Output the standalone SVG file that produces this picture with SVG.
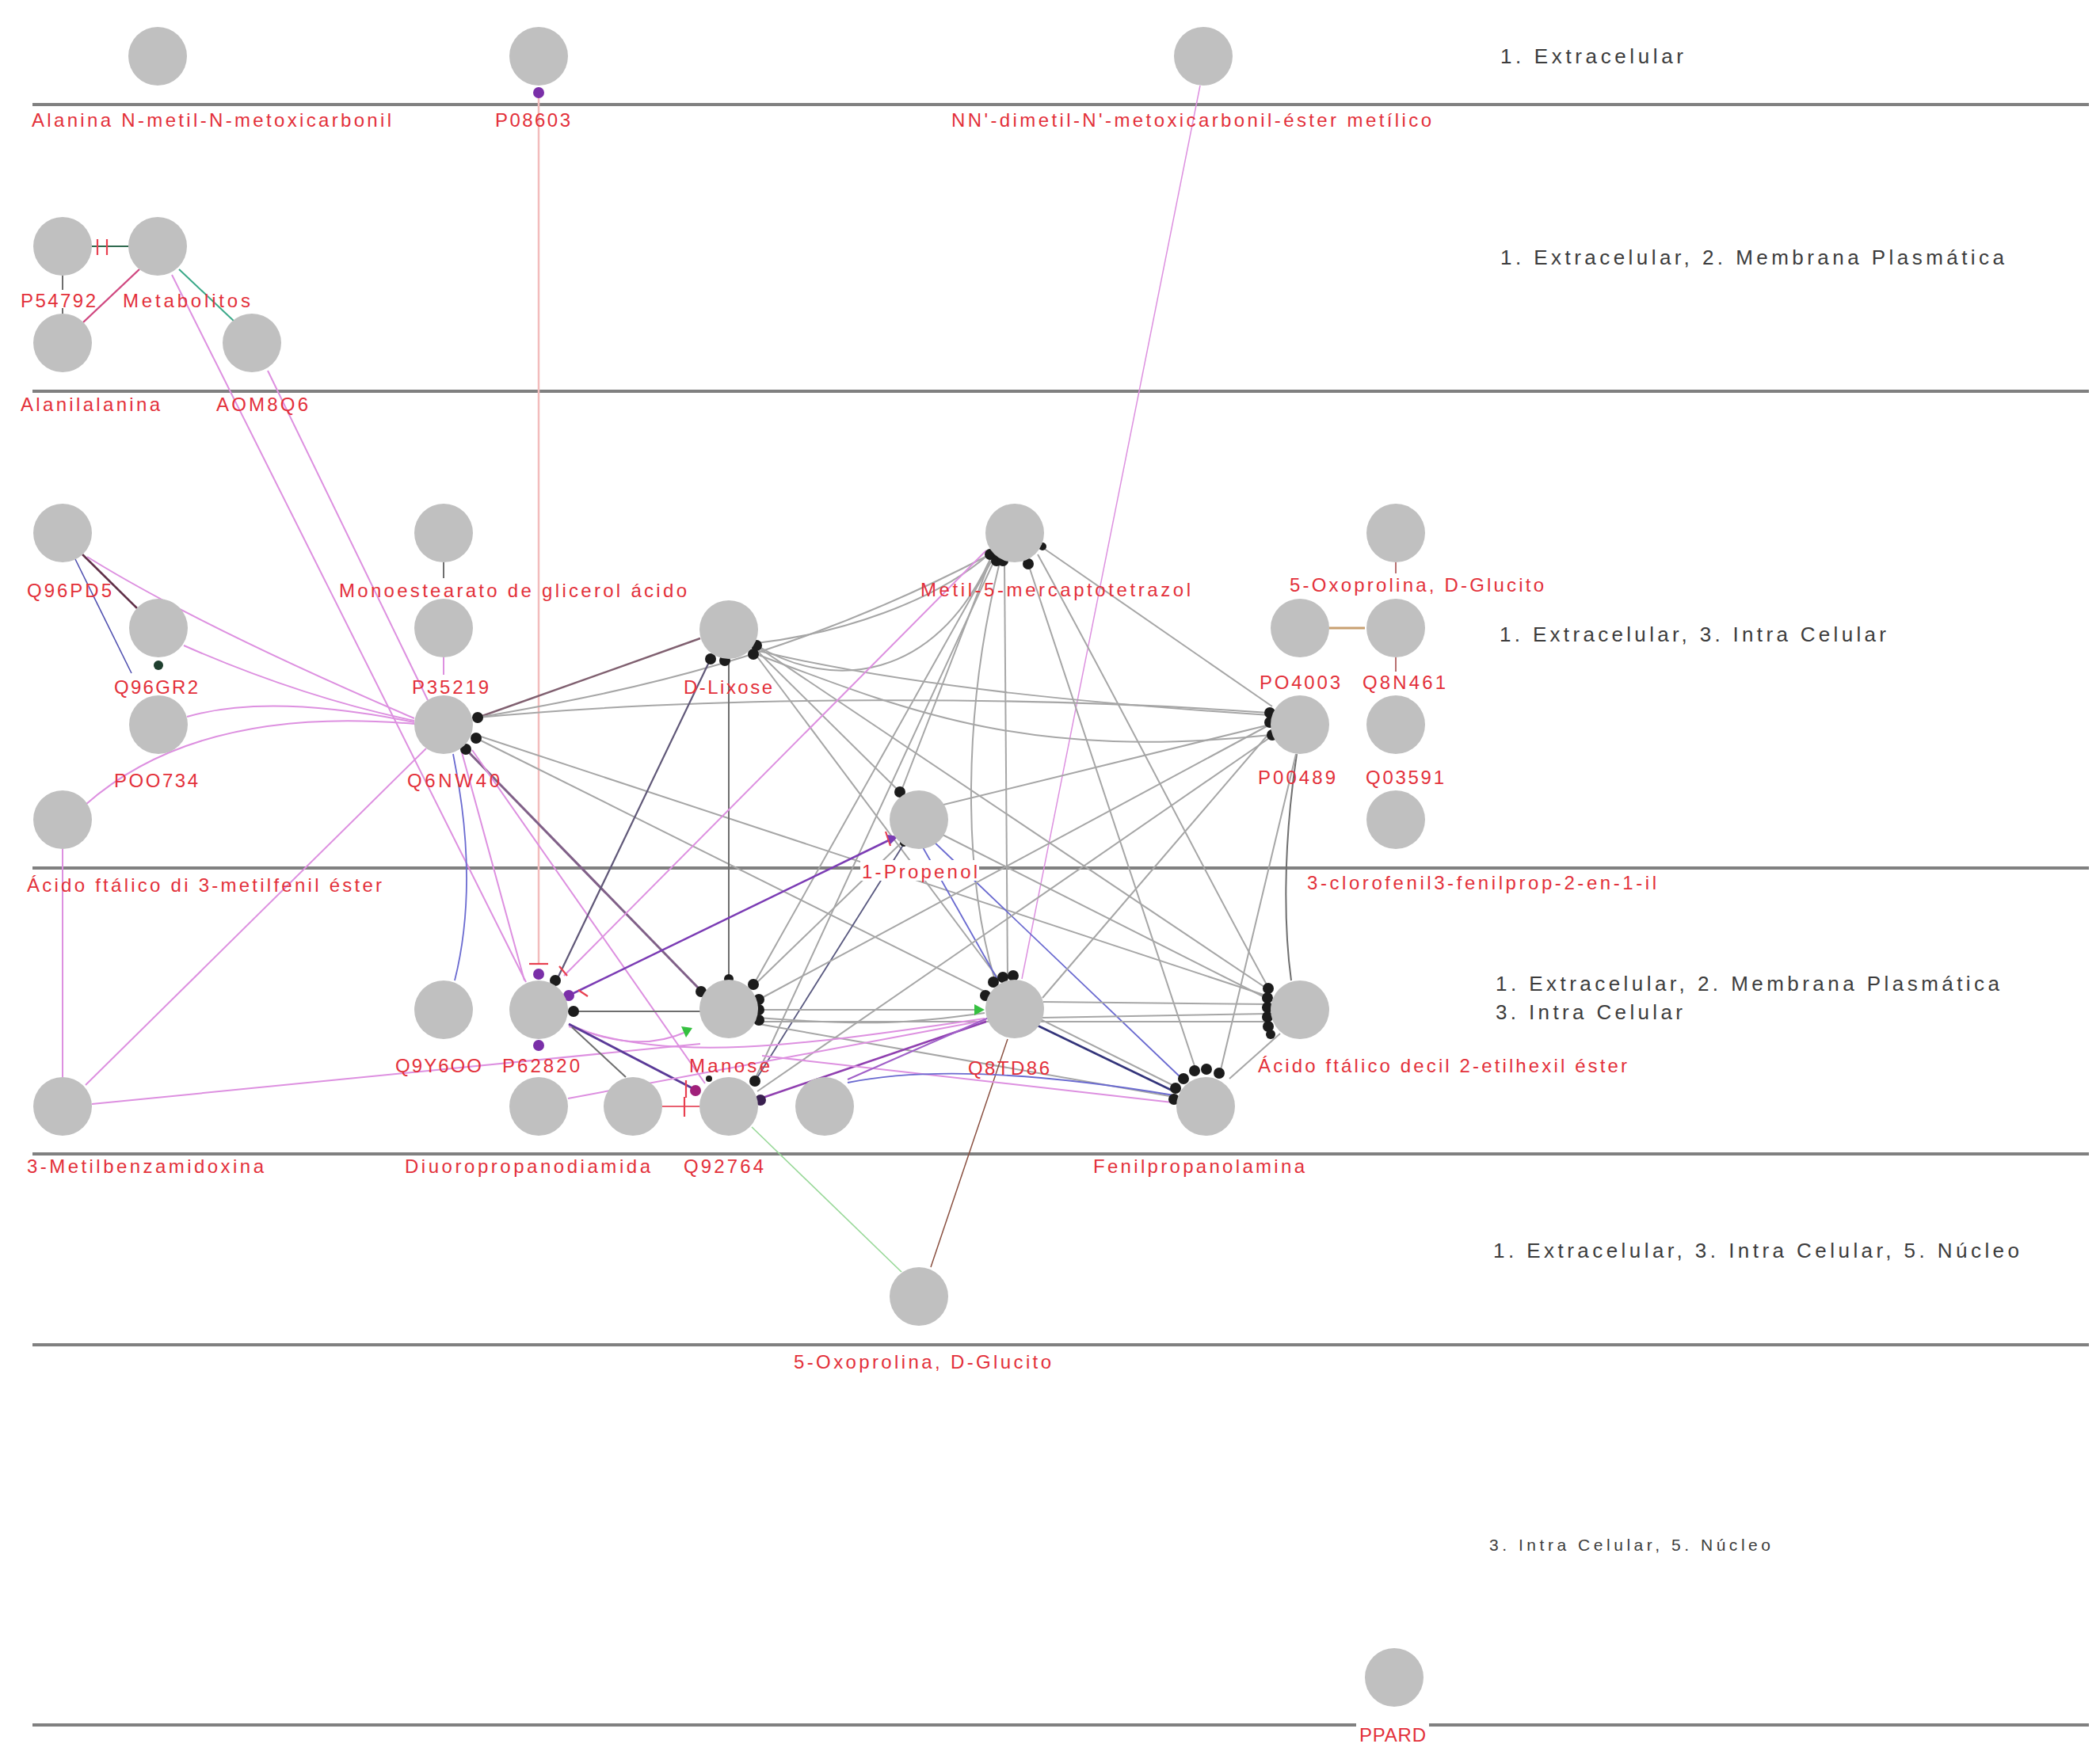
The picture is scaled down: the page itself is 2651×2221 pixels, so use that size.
<svg xmlns="http://www.w3.org/2000/svg" width="2651" height="2221" viewBox="0 0 2651 2221">
<style>
.bg{fill:#ffffff}
.lane{stroke:#808080;stroke-width:4;fill:none}
.nd{fill:#c0c0c0}
.lbl{fill:#e3303a;font-family:"Liberation Sans","DejaVu Sans",sans-serif;font-size:24px}
.lbg{fill:#ffffff}
.ll{fill:#3c3c3c;font-family:"Liberation Sans","DejaVu Sans",sans-serif;font-size:26px}
.ll2{fill:#3c3c3c;font-family:"Liberation Sans","DejaVu Sans",sans-serif;font-size:21px}
.e{fill:none;stroke-width:2}
.gr{stroke:#a6a6a6}
.dg{stroke:#6e6e6e}
.pk{stroke:#dd90e0}
.sal{stroke:#f2bcbc;stroke-width:2.5}
.pu{stroke:#7b3cb4;stroke-width:2.6}
.bl{stroke:#6a6ad0;stroke-width:1.8}
.nv{stroke:#33347a;stroke-width:2.6}
.br{stroke:#8a5040;stroke-width:1.5}
.gn{stroke:#98d898;stroke-width:1.6}
.rd{stroke:#e86070;stroke-width:2.2}
.tee{stroke:#e84050;stroke-width:2.2;fill:none}
.dot{fill:#1c1c1c}
.pdot{fill:#7a2fa8}
</style>
<rect class="bg" x="0" y="0" width="2651" height="2221"/>

<g id="lanes">
<line class="lane" x1="41" y1="132" x2="2637" y2="132"/>
<line class="lane" x1="41" y1="494" x2="2637" y2="494"/>
<line class="lane" x1="41" y1="1096" x2="2637" y2="1096"/>
<line class="lane" x1="41" y1="1457" x2="2637" y2="1457"/>
<line class="lane" x1="41" y1="1698" x2="2637" y2="1698"/>
<line class="lane" x1="41" y1="2178" x2="2637" y2="2178"/>
<text class="ll" x="1894" y="80" textLength="231" lengthAdjust="spacing">1. Extracelular</text>
<text class="ll" x="1894" y="334" textLength="636" lengthAdjust="spacing">1. Extracelular, 2. Membrana Plasmática</text>
<text class="ll" x="1893" y="810" textLength="488" lengthAdjust="spacing">1. Extracelular, 3. Intra Celular</text>
<text class="ll" x="1888" y="1251" textLength="636" lengthAdjust="spacing">1. Extracelular, 2. Membrana Plasmática</text>
<text class="ll" x="1888" y="1287" textLength="236" lengthAdjust="spacing">3. Intra Celular</text>
<text class="ll" x="1885" y="1588" textLength="664" lengthAdjust="spacing">1. Extracelular, 3. Intra Celular, 5. Núcleo</text>
<text class="ll2" x="1880" y="1958" textLength="355" lengthAdjust="spacing">3. Intra Celular, 5. Núcleo</text>
</g>

<g id="connectors">
<!-- top lanes -->
<line class="e sal" x1="680" y1="118" x2="680" y2="1217"/>
<line class="e pk" style="stroke-width:1.5" x1="1515" y1="108" x2="1290" y2="1236"/>
<line class="e" style="stroke:#2f6a4f" x1="116" y1="311" x2="162" y2="311"/>
<line class="e dg" x1="79" y1="348" x2="79" y2="366"/>
<line class="e dg" x1="79" y1="389" x2="79" y2="396"/>
<line class="e" style="stroke:#d04880;stroke-width:2.4" x1="176" y1="340" x2="105" y2="407"/>
<line class="e" style="stroke:#3aa888" x1="226" y1="340" x2="297" y2="407"/>
<line class="e pk" x1="217" y1="347" x2="664" y2="1240"/>
<line class="e pk" x1="338" y1="468" x2="540" y2="884"/>
<!-- left lane 3 -->
<line class="e" style="stroke:#603048;stroke-width:2.6" x1="104" y1="700" x2="173" y2="768"/>
<line class="e" style="stroke:#5050b0;stroke-width:1.6" x1="95" y1="706" x2="166" y2="850"/>
<path class="e pk" d="M110,703 Q250,790 523,907"/>
<path class="e pk" d="M232,815 Q380,880 523,910"/>
<path class="e pk" d="M236,905 Q340,875 523,912"/>
<path class="e pk" d="M108,1016 Q250,890 523,914"/>
<line class="e pk" x1="79" y1="1360" x2="79" y2="1072"/>
<line class="e pk" x1="108" y1="1370" x2="538" y2="945"/>
<line class="e pk" x1="116" y1="1394" x2="884" y2="1318"/>
<line class="e dg" x1="560" y1="710" x2="560" y2="730"/>
<line class="e pk" x1="560" y1="830" x2="560" y2="852"/>
<line class="e" style="stroke:#a04040;stroke-width:1.5" x1="1762" y1="710" x2="1762" y2="724"/>
<line class="e" style="stroke:#a04040;stroke-width:1.5" x1="1762" y1="830" x2="1762" y2="848"/>
<line class="e" style="stroke:#c8a070;stroke-width:3" x1="1677" y1="793" x2="1723" y2="793"/>
<!-- Q6NW40 -->
<line class="e" style="stroke:#806070;stroke-width:2.4" x1="603" y1="906" x2="884" y2="806"/>
<path class="e gr" d="M603,906 C800,872 1000,830 1246,702"/>
<path class="e gr" d="M603,906 C900,878 1300,878 1602,900"/>
<line class="e gr" x1="601" y1="932" x2="1484" y2="1372"/>
<line class="e gr" x1="601" y1="928" x2="1601" y2="1258"/>
<line class="e" style="stroke:#806088;stroke-width:3" x1="588" y1="946" x2="884" y2="1250"/>
<path class="e bl" d="M572,952 C592,1050 596,1150 574,1238"/>
<line class="e pk" x1="583" y1="950" x2="662" y2="1238"/>
<line class="e pk" x1="596" y1="947" x2="890" y2="1368"/>
<!-- D-Lixose -->
<line class="e dg" x1="920" y1="832" x2="920" y2="1236"/>
<line class="e" style="stroke:#605878;stroke-width:2.2" x1="897" y1="832" x2="703" y2="1237"/>
<path class="e gr" d="M957,816 C1050,872 1180,860 1250,706"/>
<path class="e gr" d="M955,812 C1060,800 1180,760 1248,700"/>
<path class="e gr" d="M958,822 C1150,868 1400,890 1603,903"/>
<path class="e gr" d="M955,826 C1150,900 1300,960 1604,928"/>
<line class="e gr" x1="958" y1="824" x2="1136" y2="1000"/>
<line class="e gr" x1="955" y1="828" x2="1262" y2="1238"/>
<line class="e gr" x1="958" y1="818" x2="1602" y2="1250"/>
<!-- Metil-5 -->
<line class="e gr" x1="1250" y1="708" x2="1138" y2="998"/>
<line class="e gr" x1="1252" y1="708" x2="952" y2="1242"/>
<line class="e gr" x1="1255" y1="708" x2="953" y2="1363"/>
<path class="e gr" d="M1262,710 C1215,900 1215,1100 1256,1238"/>
<line class="e gr" x1="1268" y1="710" x2="1272" y2="1234"/>
<line class="e gr" x1="1298" y1="712" x2="1510" y2="1352"/>
<line class="e gr" x1="1317" y1="692" x2="1606" y2="892"/>
<path class="e gr" d="M1310,700 C1420,900 1520,1100 1600,1245"/>
<line class="e pk" x1="1245" y1="695" x2="712" y2="1232"/>
<!-- 1-Propenol -->
<line class="e gr" x1="1183" y1="1018" x2="1603" y2="915"/>
<line class="e gr" x1="1182" y1="1050" x2="1602" y2="1262"/>
<line class="e bl" x1="1178" y1="1062" x2="1490" y2="1360"/>
<line class="e bl" x1="1165" y1="1070" x2="1260" y2="1238"/>
<line class="e pu" x1="720" y1="1256" x2="1124" y2="1060"/>
<line class="e" style="stroke:#5a5a80;stroke-width:1.8" x1="955" y1="1362" x2="1142" y2="1064"/>
<line class="e gr" x1="1140" y1="1062" x2="952" y2="1244"/>
<!-- P00489 -->
<path class="e dg" d="M1637,952 C1618,1080 1622,1180 1630,1238"/>
<line class="e gr" x1="1636" y1="952" x2="1540" y2="1355"/>
<line class="e gr" x1="1603" y1="915" x2="958" y2="1262"/>
<line class="e gr" x1="1603" y1="925" x2="1316" y2="1260"/>
<line class="e gr" x1="1605" y1="930" x2="956" y2="1378"/>
<!-- Manose / Q8TD86 -->
<line class="e gr" x1="958" y1="1275" x2="1236" y2="1275"/>
<path class="e gr" d="M958,1285 C1100,1296 1150,1292 1243,1279"/>
<line class="e gr" x1="958" y1="1290" x2="1601" y2="1290"/>
<line class="e gr" x1="958" y1="1293" x2="1482" y2="1385"/>
<line class="e dg" x1="724" y1="1277" x2="884" y2="1277"/>
<line class="e gr" x1="1317" y1="1265" x2="1601" y2="1268"/>
<line class="e gr" x1="1315" y1="1285" x2="1601" y2="1280"/>
<line class="e nv" x1="1310" y1="1295" x2="1482" y2="1378"/>
<line class="e br" x1="1272" y1="1312" x2="1175" y2="1600"/>
<line class="e gr" x1="1616" y1="1305" x2="1552" y2="1362"/>
<!-- P62820 lower -->
<path class="e pk" d="M718,1293 Q800,1332 866,1303"/>
<path class="e pk" d="M718,1296 C850,1342 1000,1322 1243,1286"/>
<line class="e pu" style="stroke:#5a3a98;stroke-width:3" x1="718" y1="1293" x2="874" y2="1374"/>
<line class="e dg" x1="722" y1="1297" x2="790" y2="1360"/>
<line class="e pk" x1="717" y1="1387" x2="1245" y2="1288"/>
<line class="e rd" x1="836" y1="1397" x2="883" y2="1397"/>
<line class="e pu" style="stroke:#9040b0" x1="957" y1="1388" x2="1245" y2="1290"/>
<line class="e pk" x1="962" y1="1333" x2="1480" y2="1392"/>
<path class="e bl" d="M1070,1367 Q1213,1338 1482,1383"/>
<line class="e pu" style="stroke:#a060c8;stroke-width:2" x1="1070" y1="1363" x2="1248" y2="1285"/>
<line class="e gn" x1="949" y1="1423" x2="1138" y2="1606"/>

<!-- end decorations -->
<g id="ends">
<path class="tee" d="M123,302 L123,322 M135,302 L135,322"/>
<path class="tee" d="M668,1217 L692,1217"/>
<path class="tee" d="M706,1220 L716,1232 M730,1250 L742,1258"/>
<path class="tee" d="M1118,1050 L1124,1068"/>
<path class="tee" d="M866,1364 L866,1386 M864,1385 L864,1410"/>
<polygon fill="#7b3cb4" points="1134,1056 1120,1054 1124,1066"/>
<polygon fill="#35c040" points="874,1298 860,1296 866,1310"/>
<polygon fill="#35c040" points="1243,1275 1230,1268 1230,1282"/>
<circle class="pdot" cx="680" cy="117" r="7"/>
<circle class="pdot" cx="680" cy="1230" r="7"/>
<circle class="pdot" cx="680" cy="1320" r="7"/>
<circle class="pdot" cx="718" cy="1257" r="7"/>
<circle fill="#a0207a" cx="878" cy="1377" r="7"/>
<circle fill="#3a2050" cx="960" cy="1389" r="7"/>
<circle fill="#1f3f2f" cx="200" cy="840" r="6"/>
<circle class="dot" cx="701" cy="1238" r="7"/>
<circle class="dot" cx="724" cy="1277" r="7"/>
<circle class="dot" cx="603" cy="906" r="7"/>
<circle class="dot" cx="601" cy="932" r="7"/>
<circle class="dot" cx="588" cy="946" r="7"/>
<circle class="dot" cx="897" cy="832" r="7"/>
<circle class="dot" cx="915" cy="834" r="7"/>
<circle class="dot" cx="955" cy="815" r="7"/>
<circle class="dot" cx="951" cy="826" r="7"/>
<circle class="dot" cx="1250" cy="700" r="7"/>
<circle class="dot" cx="1258" cy="708" r="7"/>
<circle class="dot" cx="1266" cy="708" r="7"/>
<circle class="dot" cx="1298" cy="712" r="7"/>
<circle class="dot" cx="1316" cy="690" r="5"/>
<circle class="dot" cx="1136" cy="1000" r="7"/>
<circle class="dot" cx="1183" cy="1017" r="6"/>
<circle class="dot" cx="1181" cy="1050" r="7"/>
<circle class="dot" cx="1176" cy="1060" r="6"/>
<circle class="dot" cx="1141" cy="1064" r="5"/>
<circle class="dot" cx="1603" cy="900" r="7"/>
<circle class="dot" cx="1603" cy="912" r="7"/>
<circle class="dot" cx="1606" cy="928" r="7"/>
<circle class="dot" cx="920" cy="1236" r="6"/>
<circle class="dot" cx="951" cy="1243" r="7"/>
<circle class="dot" cx="885" cy="1252" r="7"/>
<circle class="dot" cx="958" cy="1262" r="7"/>
<circle class="dot" cx="958" cy="1275" r="7"/>
<circle class="dot" cx="958" cy="1288" r="7"/>
<circle class="dot" cx="1254" cy="1240" r="7"/>
<circle class="dot" cx="1266" cy="1234" r="7"/>
<circle class="dot" cx="1279" cy="1232" r="7"/>
<circle class="dot" cx="1244" cy="1257" r="7"/>
<circle class="dot" cx="1601" cy="1248" r="7"/>
<circle class="dot" cx="1600" cy="1260" r="7"/>
<circle class="dot" cx="1600" cy="1272" r="7"/>
<circle class="dot" cx="1600" cy="1284" r="7"/>
<circle class="dot" cx="1601" cy="1296" r="7"/>
<circle class="dot" cx="1604" cy="1306" r="6"/>
<circle class="dot" cx="1494" cy="1362" r="7"/>
<circle class="dot" cx="1508" cy="1352" r="7"/>
<circle class="dot" cx="1523" cy="1350" r="7"/>
<circle class="dot" cx="1539" cy="1355" r="7"/>
<circle class="dot" cx="1484" cy="1374" r="7"/>
<circle class="dot" cx="1482" cy="1388" r="7"/>
<circle class="dot" cx="953" cy="1365" r="7"/>
<circle class="dot" cx="895" cy="1362" r="4"/>
</g>
</g>

<g id="n-alanina"><circle class="nd" cx="199" cy="71" r="37"/><text class="lbl" x="40" y="160" textLength="454" lengthAdjust="spacing">Alanina N-metil-N-metoxicarbonil</text></g>
<g id="n-P08603"><circle class="nd" cx="680" cy="71" r="37"/><text class="lbl" x="625" y="160" textLength="95" lengthAdjust="spacing">P08603</text></g>
<g id="n-NN"><circle class="nd" cx="1519" cy="71" r="37"/><text class="lbl" x="1201" y="160" textLength="606" lengthAdjust="spacing">NN'-dimetil-N'-metoxicarbonil-éster metílico</text></g>
<g id="n-P54792"><circle class="nd" cx="79" cy="311" r="37"/><text class="lbl" x="26" y="388" textLength="95" lengthAdjust="spacing">P54792</text></g>
<g id="n-metabolitos"><circle class="nd" cx="199" cy="311" r="37"/><text class="lbl" x="155" y="388" textLength="161" lengthAdjust="spacing">Metabolitos</text></g>
<g id="n-alanilalanina"><circle class="nd" cx="79" cy="433" r="37"/><text class="lbl" x="26" y="519" textLength="176" lengthAdjust="spacing">Alanilalanina</text></g>
<g id="n-AOM8Q6"><circle class="nd" cx="318" cy="433" r="37"/><text class="lbl" x="273" y="519" textLength="116" lengthAdjust="spacing">AOM8Q6</text></g>
<g id="n-Q96PD5"><circle class="nd" cx="79" cy="673" r="37"/><text class="lbl" x="34" y="754" textLength="107" lengthAdjust="spacing">Q96PD5</text></g>
<g id="n-monoestearato"><circle class="nd" cx="560" cy="673" r="37"/><text class="lbl" x="428" y="754" textLength="439" lengthAdjust="spacing">Monoestearato de glicerol ácido</text></g>
<g id="n-metil5"><circle class="nd" cx="1281" cy="673" r="37"/><text class="lbl" x="1162" y="753" textLength="341" lengthAdjust="spacing">Metil-5-mercaptotetrazol</text></g>
<g id="n-oxoprolina1"><circle class="nd" cx="1762" cy="673" r="37"/><text class="lbl" x="1628" y="747" textLength="321" lengthAdjust="spacing">5-Oxoprolina, D-Glucito</text></g>
<g id="n-Q96GR2"><circle class="nd" cx="200" cy="793" r="37"/><text class="lbl" x="144" y="876" textLength="106" lengthAdjust="spacing">Q96GR2</text></g>
<g id="n-P35219"><circle class="nd" cx="560" cy="793" r="37"/><text class="lbl" x="520" y="876" textLength="97" lengthAdjust="spacing">P35219</text></g>
<g id="n-dlixose"><circle class="nd" cx="920" cy="795" r="37"/><text class="lbl" x="863" y="876" textLength="112" lengthAdjust="spacing">D-Lixose</text></g>
<g id="n-PO4003"><circle class="nd" cx="1641" cy="793" r="37"/><text class="lbl" x="1590" y="870" textLength="102" lengthAdjust="spacing">PO4003</text></g>
<g id="n-Q8N461"><circle class="nd" cx="1762" cy="793" r="37"/><text class="lbl" x="1720" y="870" textLength="105" lengthAdjust="spacing">Q8N461</text></g>
<g id="n-POO734"><circle class="nd" cx="200" cy="915" r="37"/><text class="lbl" x="144" y="994" textLength="106" lengthAdjust="spacing">POO734</text></g>
<g id="n-Q6NW40"><circle class="nd" cx="560" cy="915" r="37"/><text class="lbl" x="514" y="994" textLength="117" lengthAdjust="spacing">Q6NW40</text></g>
<g id="n-P00489"><circle class="nd" cx="1641" cy="915" r="37"/><text class="lbl" x="1588" y="990" textLength="98" lengthAdjust="spacing">P00489</text></g>
<g id="n-Q03591"><circle class="nd" cx="1762" cy="915" r="37"/><text class="lbl" x="1724" y="990" textLength="99" lengthAdjust="spacing">Q03591</text></g>
<g id="n-acidodi"><circle class="nd" cx="79" cy="1035" r="37"/><text class="lbl" x="34" y="1126" textLength="448" lengthAdjust="spacing">Ácido ftálico di 3-metilfenil éster</text></g>
<g id="n-propenol"><circle class="nd" cx="1160" cy="1035" r="37"/><rect class="lbg" x="1086" y="1086" width="150" height="26"/><text class="lbl" x="1088" y="1109" textLength="146" lengthAdjust="spacing">1-Propenol</text></g>
<g id="n-clorofenil"><circle class="nd" cx="1762" cy="1035" r="37"/><text class="lbl" x="1650" y="1123" textLength="441" lengthAdjust="spacing">3-clorofenil3-fenilprop-2-en-1-il</text></g>
<g id="n-Q9Y6OO"><circle class="nd" cx="560" cy="1275" r="37"/><text class="lbl" x="499" y="1354" textLength="109" lengthAdjust="spacing">Q9Y6OO</text></g>
<g id="n-P62820"><circle class="nd" cx="680" cy="1275" r="37"/><text class="lbl" x="634" y="1354" textLength="98" lengthAdjust="spacing">P62820</text></g>
<g id="n-manose"><circle class="nd" cx="920" cy="1274" r="37"/><text class="lbl" x="870" y="1354" textLength="102" lengthAdjust="spacing">Manose</text></g>
<g id="n-Q8TD86"><circle class="nd" cx="1281" cy="1274" r="37"/><text class="lbl" x="1222" y="1357" textLength="103" lengthAdjust="spacing">Q8TD86</text></g>
<g id="n-acidodecil"><circle class="nd" cx="1641" cy="1275" r="37"/><text class="lbl" x="1588" y="1354" textLength="466" lengthAdjust="spacing">Ácido ftálico decil 2-etilhexil éster</text></g>
<g id="n-metilbenz"><circle class="nd" cx="79" cy="1397" r="37"/><text class="lbl" x="34" y="1481" textLength="299" lengthAdjust="spacing">3-Metilbenzamidoxina</text></g>
<g id="n-diuoro"><circle class="nd" cx="680" cy="1397" r="37"/><text class="lbl" x="511" y="1481" textLength="310" lengthAdjust="spacing">Diuoropropanodiamida</text></g>
<g id="n-u1"><circle class="nd" cx="799" cy="1397" r="37"/></g>
<g id="n-Q92764"><circle class="nd" cx="920" cy="1397" r="37"/><text class="lbl" x="863" y="1481" textLength="101" lengthAdjust="spacing">Q92764</text></g>
<g id="n-u2"><circle class="nd" cx="1041" cy="1397" r="37"/></g>
<g id="n-fenil"><circle class="nd" cx="1522" cy="1397" r="37"/><text class="lbl" x="1380" y="1481" textLength="267" lengthAdjust="spacing">Fenilpropanolamina</text></g>
<g id="n-oxoprolina2"><circle class="nd" cx="1160" cy="1637" r="37"/><text class="lbl" x="1002" y="1728" textLength="325" lengthAdjust="spacing">5-Oxoprolina, D-Glucito</text></g>
<g id="n-PPARD"><circle class="nd" cx="1760" cy="2118" r="37"/><rect class="lbg" x="1712" y="2172" width="92" height="14"/><text class="lbl" x="1716" y="2199" textLength="84" lengthAdjust="spacing">PPARD</text></g>
</svg>
